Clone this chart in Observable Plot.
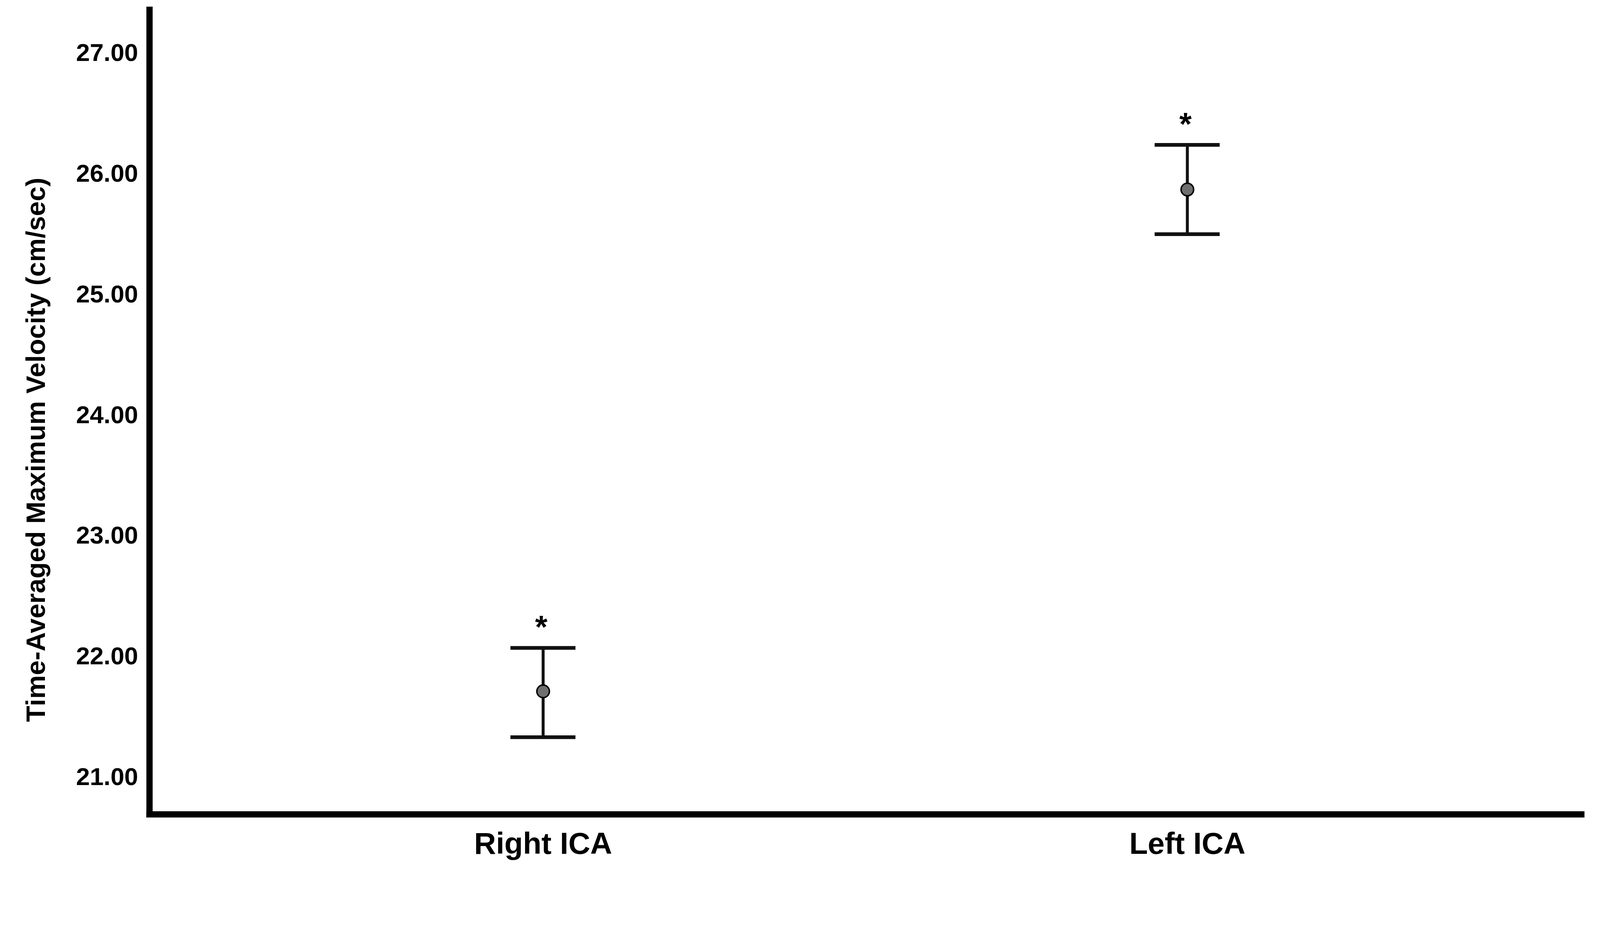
<!DOCTYPE html>
<html>
<head>
<meta charset="utf-8">
<script src="https://cdn.jsdelivr.net/npm/d3@7"></script>
<script src="https://cdn.jsdelivr.net/npm/@observablehq/plot@0.6"></script>
<style>
  html, body { margin: 0; padding: 0; background: #fff; overflow: hidden; }
  #chart svg { display: block; }
</style>
</head>
<body>
<div id="chart"></div>
<script>
const groups = ["Right ICA", "Left ICA"];
const means = [21.71, 25.87];
const lowerCI = [21.33, 25.50];
const upperCI = [22.07, 26.24];
const sigMarks = ["*", "*"];
const yTicks = [21, 22, 23, 24, 25, 26, 27];
const yDomain = [20.69, 27.36];
const yLabel = "Time-Averaged Maximum Velocity (cm/sec)";

const data = groups.map((g, i) => ({group: g, mean: means[i], lower: lowerCI[i], upper: upperCI[i], sig: sigMarks[i]}));

const W = 4329, H = 2385;
const font = "'Liberation Sans', Arial, sans-serif";

const chart = Plot.plot({
  width: W,
  height: H,
  marginLeft: 404,
  marginRight: 51,
  marginTop: 26,
  marginBottom: 183,
  style: {fontFamily: font, color: "#000", background: "#fff"},
  x: {type: "band", domain: groups, paddingInner: 0.899, paddingOuter: 0.5602, label: null},
  y: {domain: yDomain, label: null},
  marks: [
    Plot.axisY(yTicks, {tickSize: 0, tickPadding: 31, tickFormat: d3.format(".2f"), fontSize: 67, fontWeight: "bold", label: null}),
    Plot.axisX({tickSize: 0, tickPadding: 49, fontSize: 82, fontWeight: "bold", label: null}),
    Plot.text([yLabel], {frameAnchor: "left", textAnchor: "middle", rotate: -90, dx: -306, dy: 102, fontSize: 72, fontWeight: "bold", fill: "#000"}),
    Plot.ruleX(data, {x: "group", y1: "lower", y2: "upper", stroke: "#111", strokeWidth: 8}),
    Plot.tickY(data, {x: "group", y: "upper", stroke: "#111", strokeWidth: 10}),
    Plot.tickY(data, {x: "group", y: "lower", stroke: "#111", strokeWidth: 10}),
    Plot.dot(data, {x: "group", y: "mean", r: 17, fill: "#6f6f6f", stroke: "#000", strokeWidth: 4}),
    Plot.text(data, {x: "group", y: "upper", text: "sig", dy: -55, dx: -5, fontSize: 86, fontWeight: "bold", fill: "#000"}),
    Plot.frame({anchor: "left", stroke: "#000", strokeWidth: 17}),
    Plot.frame({anchor: "bottom", stroke: "#000", strokeWidth: 17, strokeLinecap: "square"})
  ]
});
document.getElementById("chart").appendChild(chart);
</script>
</body>
</html>
